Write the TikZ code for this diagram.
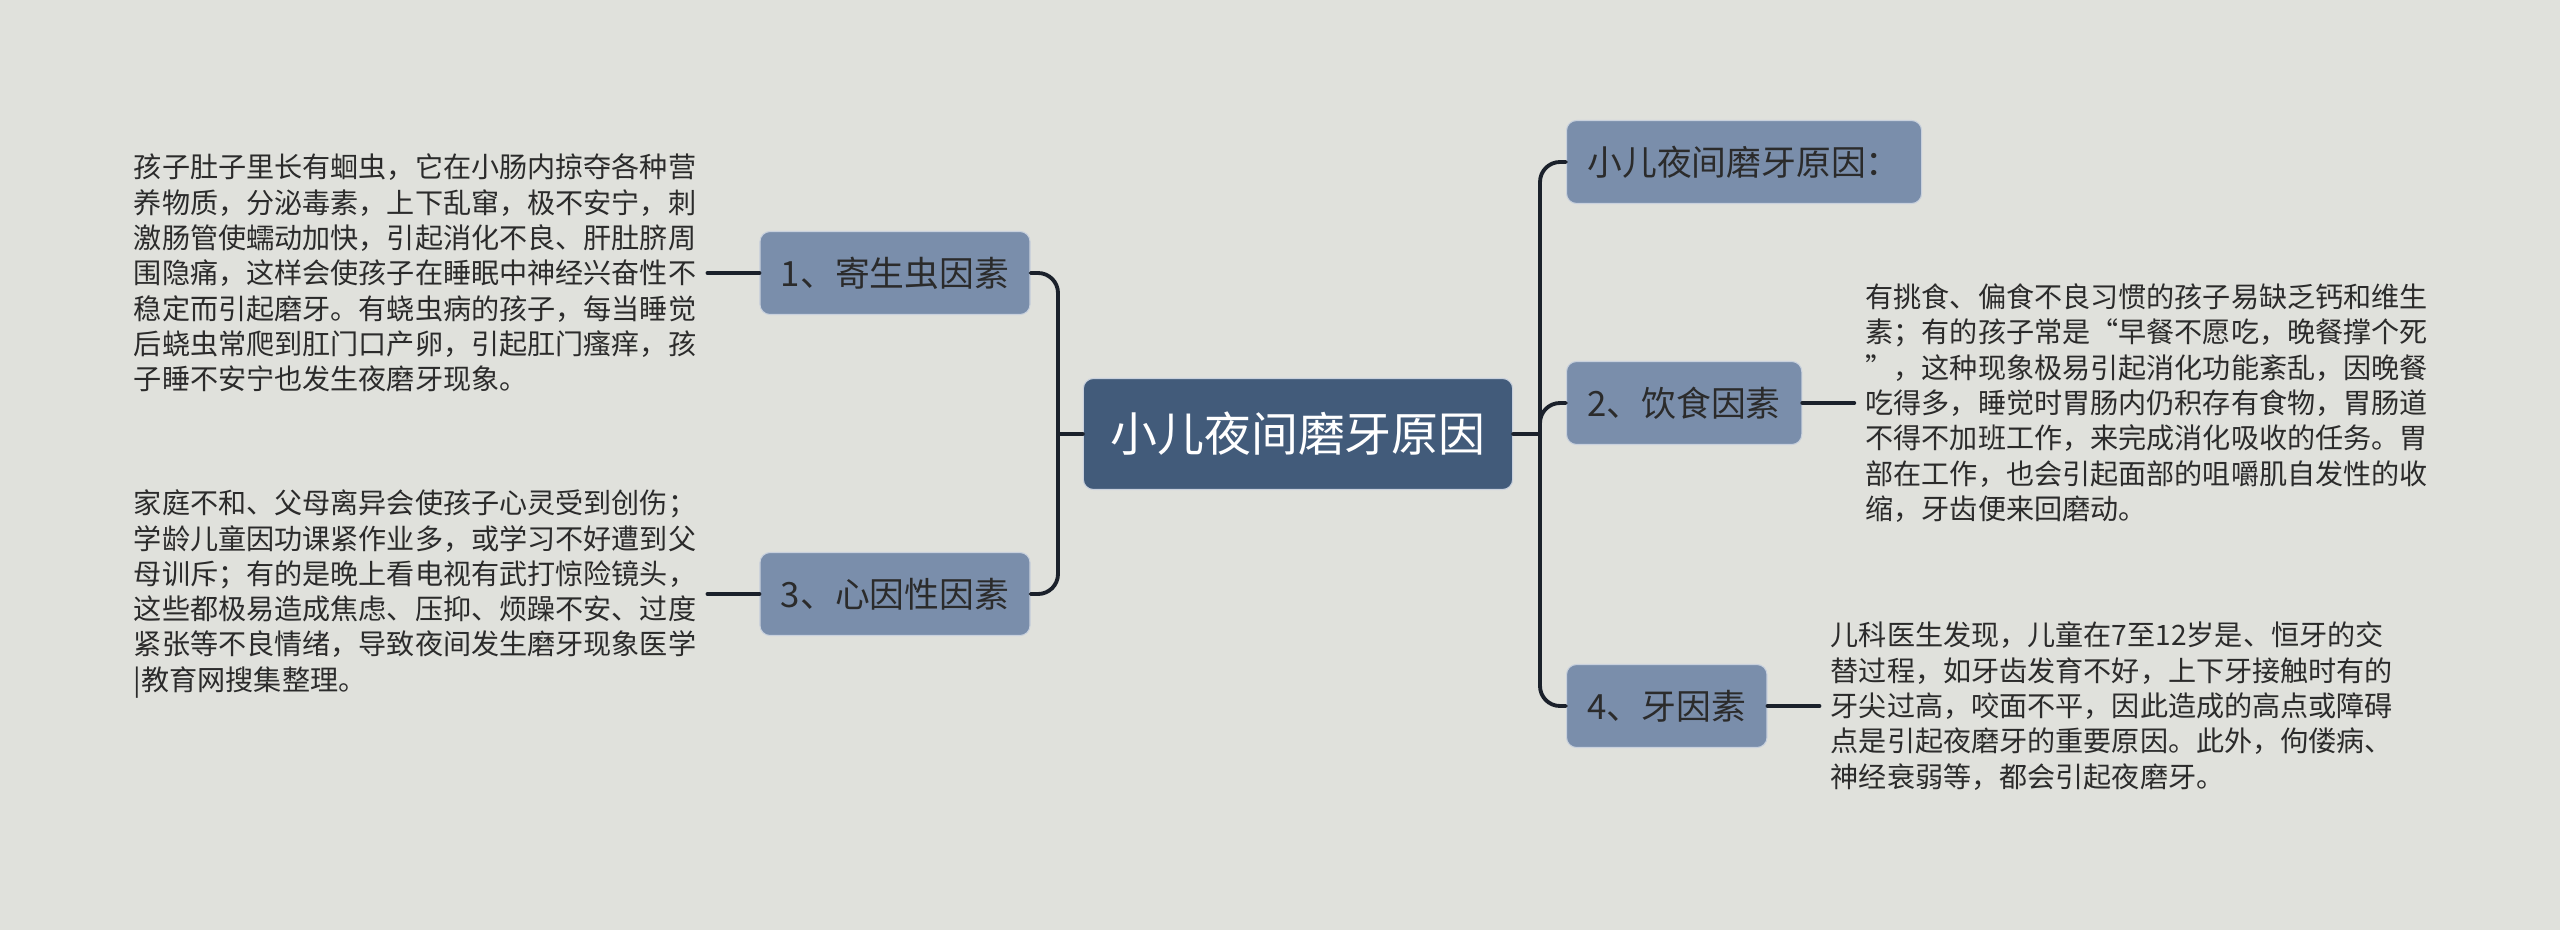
\documentclass[tikz,border=0pt]{standalone}
\usepackage{fontspec}
\setmainfont{Noto Sans CJK SC}
\usepackage{tikz}
\usetikzlibrary{positioning}
\definecolor{bgcol}{HTML}{E0E1DC}
\definecolor{rootcol}{HTML}{425B7A}
\definecolor{boxcol}{HTML}{7A8EAB}
\definecolor{edgecol}{HTML}{C9D1DD}
\definecolor{linecol}{HTML}{1B212B}
\definecolor{txtcol}{HTML}{2B2B2B}
\tikzset{
  every picture/.style={line join=round, line cap=round},
  rootbox/.style={draw=edgecol, line width=0.6pt, fill=rootcol, rounded corners=0.2cm, text=white,
    font=\fontsize{26.7}{30}\selectfont, minimum height=2.22cm, inner xsep=0.54cm},
  topic/.style={draw=edgecol, line width=0.6pt, fill=boxcol, rounded corners=0.2cm, text=txtcol,
    font=\fontsize{19.8}{24}\selectfont, minimum height=1.66cm, inner xsep=0.42cm},
  desc/.style={align=left, text=txtcol, font=\fontsize{16}{20.1}\selectfont, inner xsep=0.22cm, inner ysep=0pt},
  link/.style={draw=linecol, line width=2.2pt, rounded corners=0.4cm},
}
\begin{document}
\begin{tikzpicture}[x=0.02cm,y=-0.02cm]
\fill[bgcol](0,0)rectangle(2560,930);
\useasboundingbox(0,0)rectangle(2560,930);
% main topic and branches
\node[rootbox](root)at(1298,434){小儿夜间磨牙原因};
\node[topic](n1)at(895,273){1、寄生虫因素};
\node[topic](n3)at(895,594){3、心因性因素};
\node[topic,anchor=west](n0)at(1566,162){小儿夜间磨牙原因：};
\node[topic,anchor=west](n2)at(1566,403){2、饮食因素};
\node[topic,anchor=west](n4)at(1566,706){4、牙因素};
% descriptions
\node[desc,left=1.04cm of n1](t1){孩子肚子里长有蛔虫，它在小肠内掠夺各种营\\
养物质，分泌毒素，上下乱窜，极不安宁，刺\\
激肠管使蠕动加快，引起消化不良、肝肚脐周\\
围隐痛，这样会使孩子在睡眠中神经兴奋性不\\
稳定而引起磨牙。有蛲虫病的孩子，每当睡觉\\
后蛲虫常爬到肛门口产卵，引起肛门瘙痒，孩\\
子睡不安宁也发生夜磨牙现象。};
\node[desc,left=1.04cm of n3](t3){家庭不和、父母离异会使孩子心灵受到创伤；\\
学龄儿童因功课紧作业多，或学习不好遭到父\\
母训斥；有的是晚上看电视有武打惊险镜头，\\
这些都极易造成焦虑、压抑、烦躁不安、过度\\
紧张等不良情绪，导致夜间发生磨牙现象医学\\
|教育网搜集整理。};
\node[desc,right=1.04cm of n2](t2){有挑食、偏食不良习惯的孩子易缺乏钙和维生\\
素；有的孩子常是“早餐不愿吃，晚餐撑个死\\
”，这种现象极易引起消化功能紊乱，因晚餐\\
吃得多，睡觉时胃肠内仍积存有食物，胃肠道\\
不得不加班工作，来完成消化吸收的任务。胃\\
部在工作，也会引起面部的咀嚼肌自发性的收\\
缩，牙齿便来回磨动。};
\node[desc,right=1.04cm of n4](t4){儿科医生发现，儿童在7至12岁是、恒牙的交\\
替过程，如牙齿发育不好，上下牙接触时有的\\
牙尖过高，咬面不平，因此造成的高点或障碍\\
点是引起夜磨牙的重要原因。此外，佝偻病、\\
神经衰弱等，都会引起夜磨牙。};
% connectors
\coordinate(lj)at(1058,434);
\coordinate(rj)at(1540,434);
\draw[link](root.west)--(lj);
\draw[link](root.east)--(rj);
\draw[link](n1.east)-|(lj);
\draw[link](n3.east)-|(lj);
\draw[link](rj)|-(n0.west);
\draw[link](rj)|-(n2.west);
\draw[link](rj)|-(n4.west);
\draw[link](n1.west)--(t1.east);
\draw[link](n3.west)--(t3.east);
\draw[link](n2.east)--(t2.west);
\draw[link](n4.east)--(t4.west);
\end{tikzpicture}
\end{document}
